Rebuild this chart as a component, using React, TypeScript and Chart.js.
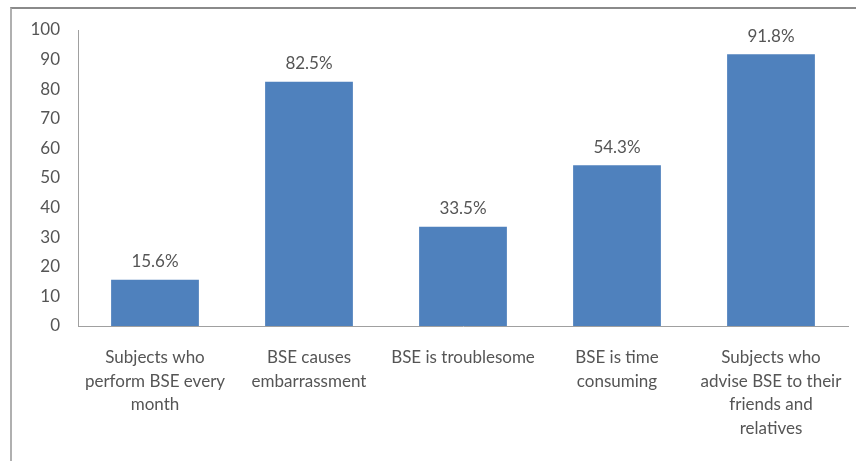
import React, { useEffect, useRef } from "react";
import { Chart, registerables } from "chart.js";

Chart.register(...registerables);

const categories: string[][] = [
  ["Subjects who", "perform BSE every", "month"],
  ["BSE causes", "embarrassment"],
  ["BSE is troublesome"],
  ["BSE is time", "consuming"],
  ["Subjects who", "advise BSE to their", "friends and", "relatives"],
];
const values: number[] = [15.6, 82.5, 33.5, 54.3, 91.8];
const valueLabels: string[] = ["15.6%", "82.5%", "33.5%", "54.3%", "91.8%"];
const yTicks: number[] = [0, 10, 20, 30, 40, 50, 60, 70, 80, 90, 100];

const FONT = "Lato, 'Liberation Sans', sans-serif";

const labelPlugin = {
  id: "valueLabels",
  afterDatasetsDraw(chart: any) {
    const ctx = chart.ctx;
    const meta = chart.getDatasetMeta(0);
    ctx.save();
    ctx.font = `17px ${FONT}`;
    ctx.fillStyle = "#555";
    ctx.textAlign = "center";
    ctx.textBaseline = "middle";
    meta.data.forEach((bar: any, i: number) => {
      ctx.fillText(valueLabels[i], bar.x, bar.y - 18);
    });
    ctx.restore();
  },
};

export default function App() {
  const ref = useRef<HTMLCanvasElement | null>(null);
  useEffect(() => {
    if (!ref.current) return;
    const chart = new Chart(ref.current, {
      type: "bar",
      data: {
        labels: categories,
        datasets: [
          {
            data: values,
            backgroundColor: "#4F81BD",
            borderWidth: 0,
            barPercentage: 0.57,
            categoryPercentage: 1,
          },
        ],
      },
      options: {
        animation: false,
        responsive: false,
        devicePixelRatio: 1,
        layout: { padding: { top: 30, right: 8, left: 0, bottom: 0 } },
        plugins: { legend: { display: false }, tooltip: { enabled: false } },
        scales: {
          x: {
            grid: { display: false, drawTicks: false },
            border: { display: true, color: "#a0a0a0", width: 1 },
            ticks: {
              color: "#555",
              font: { family: FONT, size: 17, lineHeight: 1.38 },
              padding: 20,
              maxRotation: 0,
              autoSkip: false,
            },
            afterFit(scale: any) {
              scale.height = 135;
              scale.paddingLeft = 0;
              scale.paddingRight = 0;
            },
          },
          y: {
            min: 0,
            max: 100,
            afterBuildTicks(scale: any) {
              scale.ticks = yTicks.map((v) => ({ value: v }));
            },
            grid: { display: false, drawTicks: false },
            border: { display: true, color: "#a0a0a0", width: 1 },
            ticks: {
              color: "#555",
              font: { family: FONT, size: 17 },
              padding: 18,
            },
            afterFit(scale: any) {
              scale.width = 78;
              scale.paddingTop = 0;
              scale.paddingBottom = 0;
            },
          },
        },
      },
      plugins: [labelPlugin],
    });
    return () => chart.destroy();
  }, []);

  return (
    <div style={{ position: "fixed", left: 0, top: 0, width: 856, height: 461, background: "#fff", overflow: "hidden" }}>
      <div
        style={{
          position: "absolute",
          left: 10,
          top: 7,
          width: 900,
          height: 500,
          borderLeft: "2px solid #b0b0b0",
          borderTop: "2px solid #8a8a8a",
        }}
      />
      <canvas ref={ref} width={856} height={461} style={{ position: "absolute", left: 0, top: 0, width: 856, height: 461 }} />
    </div>
  );
}
